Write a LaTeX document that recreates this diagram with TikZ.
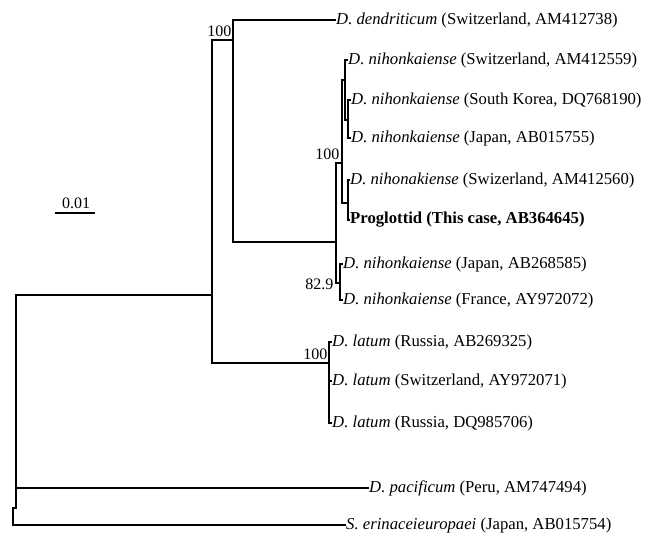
\documentclass[tikz,border=0pt]{standalone}
\usepackage{fontspec}
\setmainfont{Liberation Serif}
\begin{document}
\begin{tikzpicture}[x=1pt,y=-1pt,
  br/.style={line width=1.3pt, line cap=rect},
  leaf/.style={anchor=west, inner sep=1pt, font=\fontsize{16.7}{18}\selectfont},
  boot/.style={anchor=east, inner sep=0.5pt, font=\fontsize{16}{17}\selectfont}]
\useasboundingbox (0,0) rectangle (649,534);
% internal nodes
\coordinate (R) at (13,508);
\coordinate (A) at (16,508);
\coordinate (B) at (212,295);
\coordinate (C) at (233,40);
\coordinate (D) at (336,242);
\coordinate (E) at (342,163);
\coordinate (G) at (345,80);
\coordinate (I) at (348,120);
\coordinate (H) at (348,203);
\coordinate (F) at (340,283);
\coordinate (L) at (329,363);
% leaves
\node[leaf] (dend) at (335,20) {\textit{D. dendriticum} (Switzerland, AM412738)};
\node[leaf] (n559) at (347,60) {\textit{D. nihonkaiense} (Switzerland, AM412559)};
\node[leaf] (nkor) at (350,100) {\textit{D. nihonkaiense} (South Korea, DQ768190)};
\node[leaf] (n755) at (350,138) {\textit{D. nihonkaiense} (Japan, AB015755)};
\node[leaf] (n560) at (349,180) {\textit{D. nihonakiense} (Swizerland, AM412560)};
\node[leaf] (prog) at (349,220) {\textbf{Proglottid (This case, AB364645)}};
\node[leaf] (n585) at (342,264) {\textit{D. nihonkaiense} (Japan, AB268585)};
\node[leaf] (nfra) at (342,300) {\textit{D. nihonkaiense} (France, AY972072)};
\node[leaf] (lat1) at (331,342) {\textit{D. latum} (Russia, AB269325)};
\node[leaf] (lat2) at (331,381) {\textit{D. latum} (Switzerland, AY972071)};
\node[leaf] (lat3) at (331,423) {\textit{D. latum} (Russia, DQ985706)};
\node[leaf] (pac) at (368,488) {\textit{D. pacificum} (Peru, AM747494)};
\node[leaf] (ser) at (345,525) {\textit{S. erinaceieuropaei} (Japan, AB015754)};
% branches
\draw[br] (R) |- (A);
\draw[br] (R) |- (ser.west);
\draw[br] (A) |- (B);
\draw[br] (A) |- (pac.west);
\draw[br] (B) |- (C);
\draw[br] (B) |- (L);
\draw[br] (C) |- (dend.west);
\draw[br] (C) |- (D);
\draw[br] (D) |- (E);
\draw[br] (D) |- (F);
\draw[br] (E) |- (G);
\draw[br] (E) |- (H);
\draw[br] (G) |- (n559.west);
\draw[br] (G) |- (I);
\draw[br] (I) |- (nkor.west);
\draw[br] (I) |- (n755.west);
\draw[br] (H) |- (n560.west);
\draw[br] (H) |- (prog.west);
\draw[br] (F) |- (n585.west);
\draw[br] (F) |- (nfra.west);
\draw[br] (L) |- (lat1.west);
\draw[br] (L) |- (lat2.west);
\draw[br] (L) |- (lat3.west);
% bootstrap values
\node[boot] (bC) at (232,31) {100};
\node[boot] (bE) at (340,154) {100};
\node[boot] (bF) at (334,284) {82.9};
\node[boot] (bL) at (328,354) {100};
% scale bar
\coordinate (s1) at (55,213);
\coordinate (s2) at (95,213);
\draw[line width=1.2pt] (s1) -- (s2);
\node[inner sep=0pt, font=\fontsize{16}{17}\selectfont] (sc) at (76,203) {0.01};
\end{tikzpicture}
\end{document}
